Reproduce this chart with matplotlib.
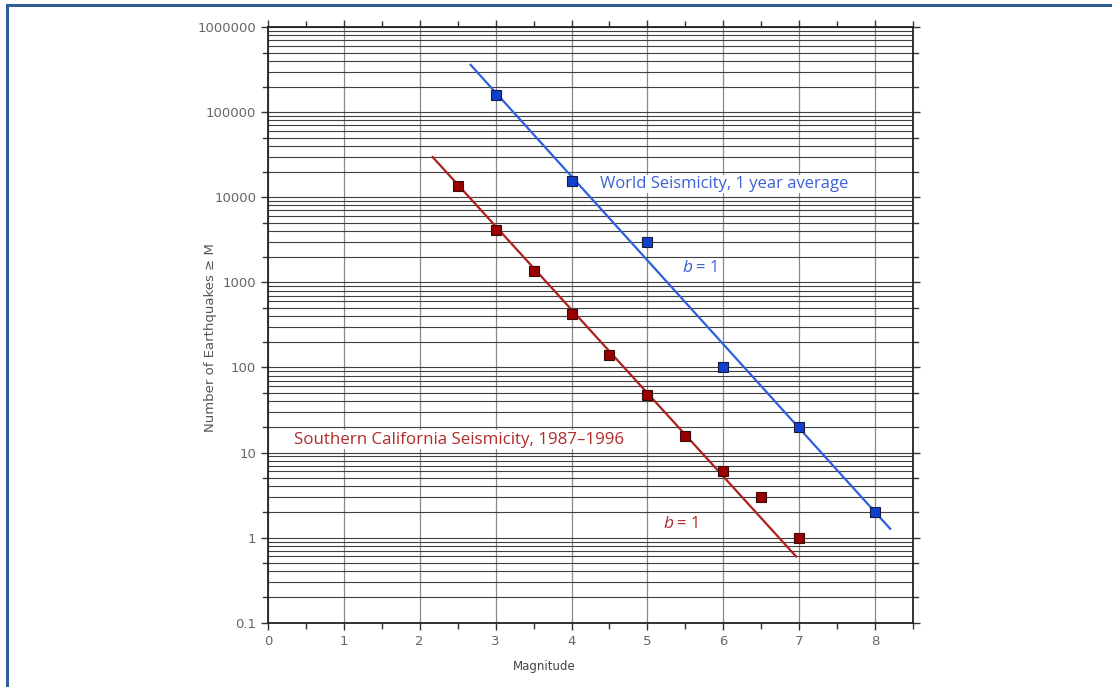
import matplotlib
matplotlib.use('Agg')
import matplotlib.pyplot as plt
from matplotlib.lines import Line2D
from matplotlib.ticker import FixedLocator, NullFormatter, LogLocator

# 世界地震 (1 年平均) 與南加州地震, 累計次數 N(>=M)
world_mag = [3, 4, 5, 6, 7, 8]
world_n = [160000, 15500, 3000, 100, 20, 2]
world_fit_mag = [2.67, 8.2]
world_fit_n = [360000, 1.27]

socal_mag = [2.5, 3, 3.5, 4, 4.5, 5, 5.5, 6, 6.5, 7]
socal_n = [13500, 4100, 1360, 425, 140, 47, 15.8, 6, 3, 1]
socal_fit_mag = [2.17, 6.96]
socal_fit_n = [29700, 0.6]

yticks = [0.1, 1, 10, 100, 1000, 10000, 100000, 1000000]
ytick_labels = ['0.1', '1', '10', '100', '1000', '10000', '100000', '1000000']
xticks = [0, 1, 2, 3, 4, 5, 6, 7, 8]

blue = '#2f5fe0'
red = '#b01e1e'
txt_blue = '#3a5fd8'
txt_red = '#b02a2a'

fig = plt.figure(figsize=(11.12, 6.87), dpi=100)
ax = fig.add_axes([0.241, 0.0936, 0.580, 0.867])

ax.set_yscale('log')
ax.set_xlim(0, 8.5)
ax.set_ylim(0.1, 1e6)

# 格線
ax.yaxis.set_minor_locator(LogLocator(base=10, subs=range(2, 10), numticks=20))
ax.grid(True, which='both', axis='y', color='#404040', lw=0.8)
ax.grid(True, which='major', axis='x', color='#8a8a8a', lw=0.9)
ax.set_axisbelow(True)

# 刻度
ax.set_xticks(xticks)
ax.set_xticklabels([str(v) for v in xticks])
ax.xaxis.set_minor_locator(FixedLocator([v + 0.5 for v in xticks]))
ax.set_yticks(yticks)
ax.set_yticklabels(ytick_labels)
ax.tick_params(axis='both', which='both', direction='out', colors='#333333',
               labelcolor='#666666', labelsize=9.5, top=True, right=True,
               width=1)
ax.tick_params(axis='both', which='major', length=5)
ax.tick_params(axis='x', which='minor', length=4)
ax.tick_params(axis='y', which='minor', length=0)
# y 軸 2、5 的刻度
ax.yaxis.set_minor_formatter(NullFormatter())
for d in yticks[:-1]:
    for m in (2, 5):
        ax.plot([0, -0.008], [d * m, d * m], color='#333333', lw=1,
                clip_on=False, transform=ax.get_yaxis_transform())
        ax.plot([1, 1.008], [d * m, d * m], color='#333333', lw=1,
                clip_on=False, transform=ax.get_yaxis_transform())
for s in ax.spines.values():
    s.set_color('#222222')
    s.set_linewidth(1.3)

# 資料
ax.plot(world_fit_mag, world_fit_n, color=blue, lw=1.6, zorder=3)
ax.plot(world_mag, world_n, 's', ms=6.5, mfc='#1040d0', mec='#1a1a40',
        mew=0.8, zorder=4)
ax.plot(socal_fit_mag, socal_fit_n, color=red, lw=1.6, zorder=3)
ax.plot(socal_mag, socal_n, 's', ms=6.5, mfc='#9a0000', mec='#3a0a0a',
        mew=0.8, zorder=4)

# 註解
fnt = ['Open Sans', 'DejaVu Sans']
ax.text(4.37, 14300, 'World Seismicity, 1 year average', color=txt_blue,
        fontsize=12, family=fnt, va='center', ha='left',
        bbox=dict(fc='white', ec='none', pad=1))
ax.text(5.46, 1480, 'b', color=txt_blue, fontsize=12.5, family=fnt,
        style='italic', va='center', ha='left')
ax.text(5.645, 1480, '= 1', color=txt_blue, fontsize=12, family=fnt,
        va='center', ha='left')
ax.text(0.34, 14.1, 'Southern California Seismicity, 1987\u20131996',
        color=txt_red, fontsize=12.2, family=fnt, va='center', ha='left',
        bbox=dict(fc='white', ec='none', pad=1))
ax.text(5.21, 1.46, 'b', color=txt_red, fontsize=12.5, family=fnt,
        style='italic', va='center', ha='left')
ax.text(5.39, 1.46, '= 1', color=txt_red, fontsize=12, family=fnt,
        va='center', ha='left')

ax.set_xlabel('Magnitude', fontsize=8.5, color='#444444')
ax.xaxis.set_label_coords(0.428, -0.062)
ax.set_ylabel('Number of Earthquakes \u2265 M', fontsize=9.5, color='#555555')
ax.yaxis.set_label_coords(-0.079, 0.478)

# 外框
fig.add_artist(Line2D([0.0065, 1.0], [0.9925, 0.9925], color='#2e6096',
                      lw=2.2, transform=fig.transFigure))
fig.add_artist(Line2D([0.0065, 0.0065], [0.0, 0.9925], color='#2e6096',
                      lw=2.2, transform=fig.transFigure))

fig.savefig('out.png', dpi=100)
